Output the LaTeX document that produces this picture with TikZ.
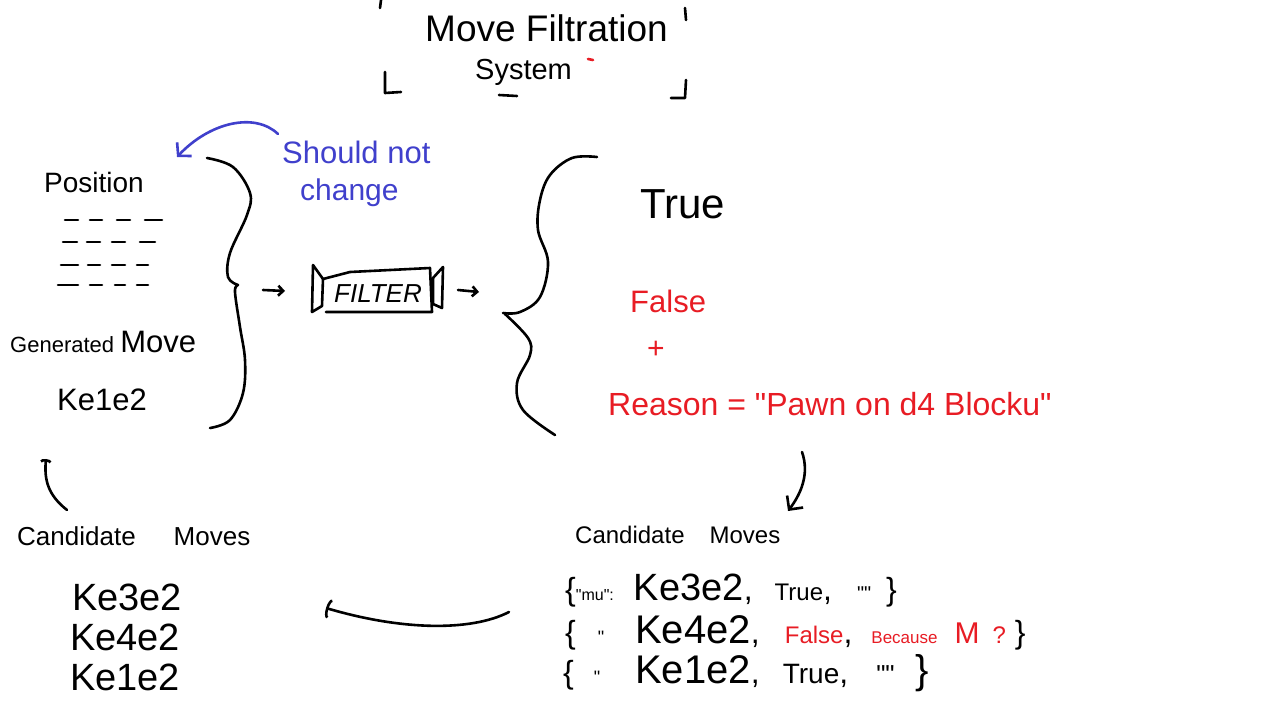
\documentclass[tikz,border=0pt]{standalone}
\usepackage{fontspec}
\setmainfont{Liberation Sans}[Ligatures=TeXOff]
\usetikzlibrary{arrows.meta}
\definecolor{inkred}{RGB}{232,28,36}
\definecolor{inkblue}{RGB}{64,64,204}
\newcommand\myfs[1]{\fontsize{#1}{#1}\selectfont}
\begin{document}
\begin{tikzpicture}[x=1pt,y=-1pt,
  ink/.style={line width=2.6pt,line cap=round,line join=round},
  txt/.style={inner sep=0pt,anchor=base west},
  smallarrow/.style={ink,-{Straight Barb[length=5pt,width=10pt]}},
  bigarrow/.style={ink,-{Straight Barb[length=10pt,width=20pt]}}]
\fill[white] (0,0) rectangle (1282,717);
\useasboundingbox (0,0) rectangle (1282,717);

% ---- title ----
\node[txt] (title) at (425,42) {\myfs{37}Move Filtration};
\node[txt] (system) at (475,80) {\myfs{29}System};
\draw[ink] (381,0) -- (380,8);
\draw[ink] (685,8) -- (686,20);
\draw[ink] (385,72) -- (385,93) -- (401,92);
\draw[ink] (686,80) -- (685,98) -- (671,98);
\draw[ink] (499,95) -- (517,96);
\draw[ink,inkred] (588,59) -- (593,60);

% ---- left block ----
\node[txt,inkblue] (note1) at (282,163) {\myfs{31}Should not};
\node[txt,inkblue] (note2) at (300,200) {\myfs{30}change};
\node[txt] (pos) at (44,192) {\myfs{28}Position};
\foreach \y/\a/\b/\c/\d/\e/\f/\g/\h in
  {220/65/78/90/102/117/130/145/162,
   242/63/77/87/100/112/125/140/155,
   265/61/78/88/100/112/125/137/148,
   285/58/78/90/102/115/125/137/148}
  {\draw[ink] (\a,\y) -- (\b,\y) (\c,\y) -- (\d,\y) (\e,\y) -- (\f,\y) (\g,\y) -- (\h,\y);}
\node[txt] (gen) at (10,352) {\myfs{22}Generated {\myfs{31}Move}};
\node[txt] (gm) at (57,410) {\myfs{31}Ke1e2};

% brace 1
\draw[ink] plot[smooth,tension=0.6] coordinates {(207,158) (233,167) (250,193) (247,215) (230,253) (228,277) (238,285)};
\draw[ink] plot[smooth,tension=0.6] coordinates {(238,285) (235,292) (240,327) (245,360) (243,393) (230,420) (210,428)};

% blue arrow
\coordinate (blueS) at (278,134);
\coordinate (blueE) at (177,157);
\draw[ink,inkblue,-{Straight Barb[length=9pt,width=20pt]}] (blueS) .. controls (255,112) and (210,122) .. (blueE);

% ---- filter ----
\node[txt,font=\itshape] (filter) at (334,302) {\myfs{26}FILTER};
\draw[ink] (323,279) -- (350,272) -- (430,268) -- (432,312) -- (326,312);
\draw[ink] (313,265) -- (312,312) -- (322,306) -- (323,279) -- cycle;
\draw[ink] (443,267) -- (442,308) -- (433,304) -- (433,278) -- cycle;
\coordinate (a1s) at (263,290);
\coordinate (a1e) at (285,291);
\coordinate (a2s) at (458,290);
\coordinate (a2e) at (479,292);
\draw[smallarrow] (a1s) -- (a1e);
\draw[smallarrow] (a2s) -- (a2e);

% brace 2
\draw[ink] plot[smooth,tension=0.6] coordinates {(597,157) (572,158) (550,175) (540,200) (538,230) (548,262) (540,297) (520,312) (503,313)};
\draw[ink] plot[smooth,tension=0.6] coordinates {(505,314) (528,338) (530,355) (517,383) (523,410) (555,435)};

% ---- results ----
\node[txt] (true) at (640,218) {\myfs{42}True};
\node[txt,inkred] (false) at (630,312) {\myfs{31}False};
\node[inner sep=0pt,inkred] (plus) at (656,350) {\myfs{30}+};
\node[txt,inkred] (reason) at (608,415) {\myfs{32}Reason = "Pawn on d4 Blocku"};

% down arrow
\coordinate (dS) at (802,452);
\coordinate (dE) at (788,511);
\draw[bigarrow] (dS) .. controls (810,475) and (800,495) .. (dE);

% ---- right candidate moves ----
\node[txt] (rcand) at (575,543) {\myfs{24}Candidate\hspace{25pt}Moves};
\node[txt] (r1) at (565,600) {\myfs{32}\{{\myfs{16}"mu":}\hspace{20pt}{\myfs{38}Ke3e2},\hspace{22pt}{\myfs{24}True},\hspace{25pt}{\myfs{20}""}\hspace{15pt}\}};
\node[txt] (r2) at (565,643) {\myfs{32}\{\hspace{22pt}{\myfs{18}"}\hspace{31pt}{\myfs{40}Ke4e2},\hspace{25pt}{\color{inkred}\myfs{24}False},\hspace{19pt}{\color{inkred}\myfs{17}Because\hspace{17pt}\myfs{30}M\hspace{13pt}\myfs{24}?}\hspace{9pt}\}};
\node[txt] (r3) at (563,683) {\myfs{32}\{\hspace{20pt}{\myfs{18}"}\hspace{35pt}{\myfs{40}Ke1e2},\hspace{23pt}{\myfs{28}True},\hspace{28pt}{\myfs{26}""}\hspace{21pt}{\myfs{40}\}}};

% bottom arrow
\coordinate (bS) at (509,612);
\coordinate (bE) at (326,608);
\draw[ink,-{Arc Barb[length=4pt,width=20pt]}] (bS) .. controls (470,632) and (400,630) .. (bE);

% ---- left candidate moves ----
\node[txt] (lcand) at (17,545) {\myfs{26}Candidate\hspace{38pt}Moves};
\node[txt] (l1) at (72,610) {\myfs{38}Ke3e2};
\node[txt] (l2) at (70,650) {\myfs{38}Ke4e2};
\node[txt] (l3) at (70,690) {\myfs{38}Ke1e2};

% left hook arrow
\coordinate (hS) at (67,510);
\coordinate (hE) at (46,459);
\draw[ink,-{Arc Barb[length=3pt,width=12pt]}] (hS) .. controls (48,495) and (44,480) .. (hE);
\end{tikzpicture}
\end{document}
